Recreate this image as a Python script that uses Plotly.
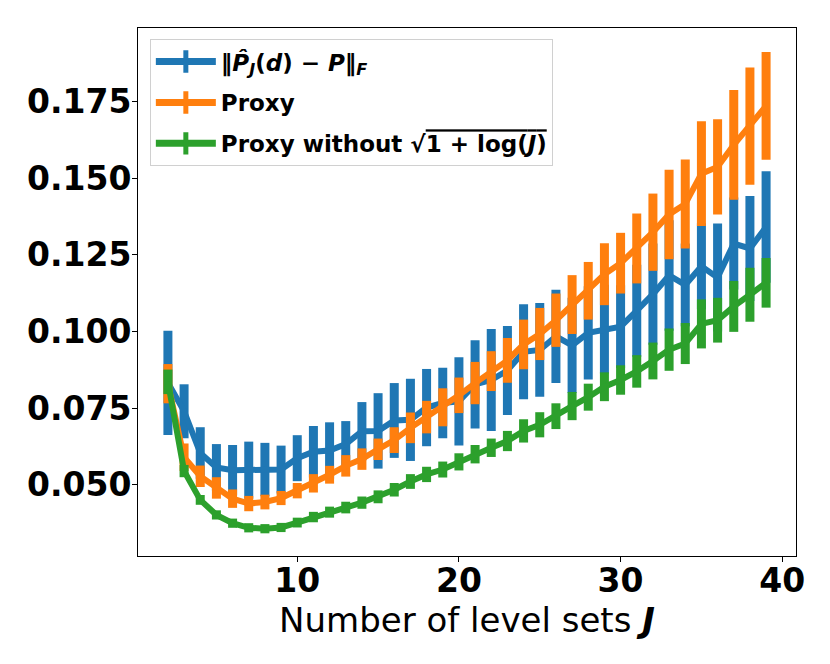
import plotly.graph_objects as go

# number of level sets J
level_sets = list(range(2, 40))

# ||P_J(d) - P||_F : mean and half-width of error bar
frob_mean = [0.0833, 0.0740, 0.0604, 0.0557, 0.0548, 0.0548, 0.0550, 0.0550, 0.0587, 0.0608,
             0.0612, 0.0633, 0.0675, 0.0676, 0.0710, 0.0712, 0.0752, 0.0767, 0.0772, 0.0828,
             0.0842, 0.0873, 0.0934, 0.0940, 0.0984, 0.0955, 0.0996, 0.1008, 0.1016, 0.1068,
             0.1122, 0.1183, 0.1152, 0.1213, 0.1176, 0.1287, 0.1271, 0.1341]
frob_err = [0.0170, 0.0088, 0.0084, 0.0076, 0.0082, 0.0093, 0.0087, 0.0078, 0.0075, 0.0084,
            0.0092, 0.0075, 0.0095, 0.0123, 0.0122, 0.0134, 0.0126, 0.0115, 0.0144, 0.0144,
            0.0166, 0.0145, 0.0155, 0.0153, 0.0152, 0.0155, 0.0152, 0.0145, 0.0135, 0.0150,
            0.0165, 0.0180, 0.0135, 0.0140, 0.0176, 0.0150, 0.0171, 0.0182]

# Proxy
proxy_mean = [0.0830, 0.0590, 0.0528, 0.0490, 0.0455, 0.0439, 0.0444, 0.0457, 0.0481, 0.0505,
              0.0533, 0.0562, 0.0584, 0.0616, 0.0646, 0.0686, 0.0721, 0.0753, 0.0792, 0.0832,
              0.0871, 0.0906, 0.0958, 0.0992, 0.1037, 0.1088, 0.1133, 0.1187, 0.1223, 0.1271,
              0.1324, 0.1382, 0.1416, 0.1515, 0.1537, 0.1609, 0.1670, 0.1736]
proxy_err = [0.0064, 0.0045, 0.0035, 0.0035, 0.0030, 0.0025, 0.0024, 0.0023, 0.0025, 0.0030,
             0.0029, 0.0035, 0.0035, 0.0035, 0.0042, 0.0050, 0.0053, 0.0062, 0.0058, 0.0069,
             0.0065, 0.0073, 0.0081, 0.0085, 0.0087, 0.0096, 0.0094, 0.0101, 0.0099, 0.0114,
             0.0126, 0.0146, 0.0145, 0.0171, 0.0155, 0.0179, 0.0191, 0.0176]

# Proxy without sqrt(1 + log J)
proxy_nolog_mean = [0.0836, 0.0545, 0.0451, 0.0402, 0.0375, 0.0360, 0.0357, 0.0361, 0.0377, 0.0395,
                    0.0411, 0.0426, 0.0442, 0.0461, 0.0484, 0.0511, 0.0534, 0.0550, 0.0575, 0.0600,
                    0.0621, 0.0643, 0.0676, 0.0696, 0.0724, 0.0757, 0.0786, 0.0820, 0.0842, 0.0870,
                    0.0904, 0.0941, 0.0961, 0.1025, 0.1037, 0.1082, 0.1120, 0.1159]
proxy_nolog_err = [0.0040, 0.0020, 0.0016, 0.0015, 0.0015, 0.0015, 0.0015, 0.0015, 0.0016, 0.0017,
                   0.0018, 0.0019, 0.0020, 0.0021, 0.0022, 0.0024, 0.0025, 0.0026, 0.0028, 0.0030,
                   0.0030, 0.0033, 0.0038, 0.0041, 0.0042, 0.0046, 0.0044, 0.0047, 0.0048, 0.0053,
                   0.0060, 0.0069, 0.0067, 0.0080, 0.0073, 0.0083, 0.0088, 0.0081]

y_ticks = [0.050, 0.075, 0.100, 0.125, 0.150, 0.175]
x_ticks = [10, 20, 30, 40]

series = [
    ("<b>‖<i>P̂</i><sub><i>J</i></sub>(<i>d</i>) − <i>P</i>‖<sub><i>F</i></sub></b>",
     frob_mean, frob_err, "#1f77b4"),
    ("<b>Proxy</b>", proxy_mean, proxy_err, "#ff7f0e"),
    ("<b>Proxy without √<span style='text-decoration:overline'>1 + log(<i>J</i>)</span></b>",
     proxy_nolog_mean, proxy_nolog_err, "#2ca02c"),
]

fig = go.Figure()

for name, mean, err, color in series:
    fig.add_trace(go.Scatter(
        x=level_sets, y=mean, mode="lines", showlegend=False,
        line=dict(color=color, width=6),
        error_y=dict(type="data", array=err, visible=True, color=color, thickness=9, width=0),
    ))

# legend-only entries, drawn as a line with a vertical bar like an errorbar key
for i, (name, mean, err, color) in enumerate(series):
    fig.add_trace(go.Scatter(
        x=[None], y=[None], mode="lines+markers", name=name, legendgroup=f"g{i}",
        line=dict(color=color, width=7),
        marker=dict(symbol="line-ns", size=16, color=color, line=dict(color=color, width=5)),
    ))

font = "DejaVu Sans"
# the page body adds an 8px offset, so margins are trimmed to keep the frame in place
fig.update_xaxes(
    range=[0.15, 40.85], tickvals=x_ticks, ticks="outside", ticklen=5, tickwidth=1,
    tickcolor="black", showline=True, linecolor="black", linewidth=1, mirror=True,
    showgrid=False, zeroline=False, ticklabelstandoff=-10,
    tickfont=dict(family=font, size=33, color="black", weight="bold"),
    title=dict(text="Number of level sets <b><i>J</i></b>", standoff=0,
               font=dict(family=font, size=34, color="black")),
)
fig.update_yaxes(
    range=[0.0268, 0.1990], tickvals=y_ticks, tickformat=".3f", ticks="outside", ticklen=5,
    tickwidth=1, tickcolor="black", showline=True, linecolor="black", linewidth=1, mirror=True,
    showgrid=False, zeroline=False, ticklabelstandoff=-6,
    tickfont=dict(family=font, size=33, color="black", weight="bold"),
)
fig.update_layout(
    width=830, height=664, plot_bgcolor="white", paper_bgcolor="white",
    margin=dict(l=130, r=42, t=20, b=116),
    legend=dict(x=0.018, y=0.979, xanchor="left", yanchor="top", bgcolor="white",
                bordercolor="#d0d0d0", borderwidth=1, tracegroupgap=8,
                font=dict(family=font, size=23, color="black"), itemwidth=60),
)

fig.write_html("out.html")
